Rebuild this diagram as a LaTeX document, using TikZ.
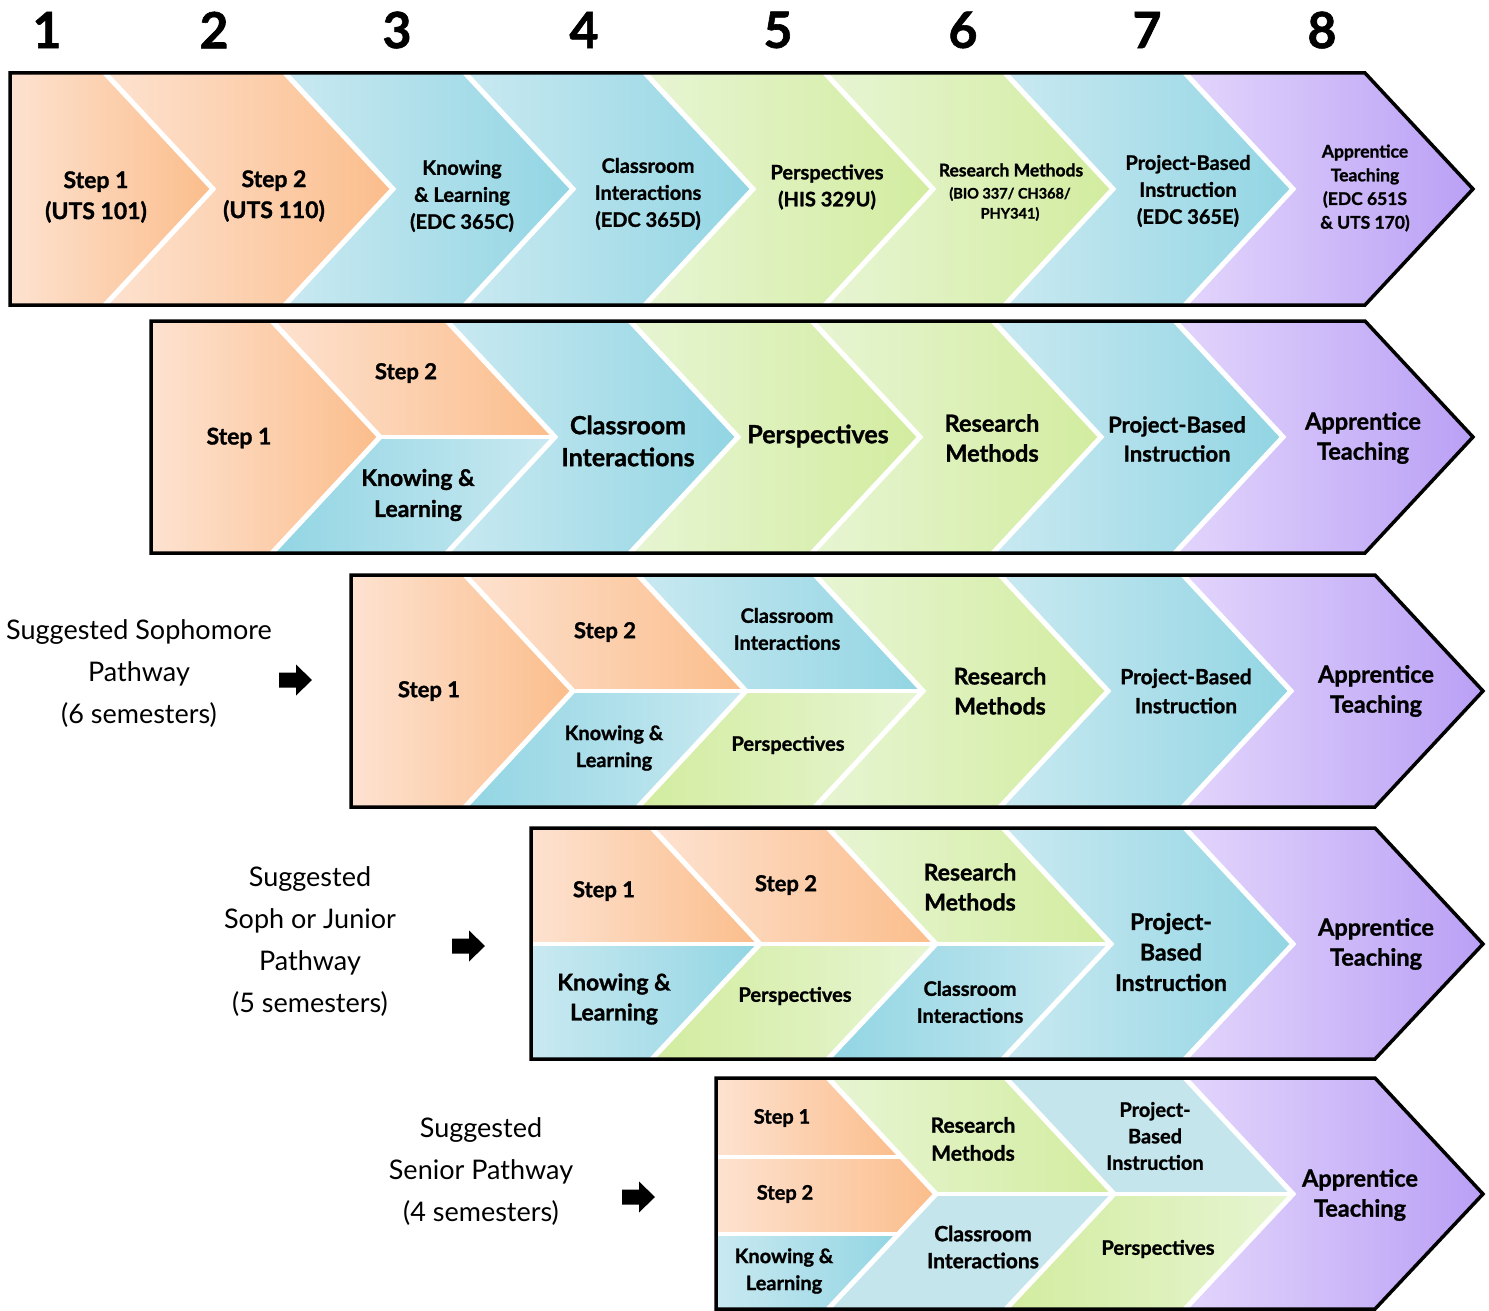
\documentclass[tikz,border=0pt]{standalone}
\usepackage{fontspec}
\setmainfont{Lato}[BoldFeatures={FakeBold=1.2}]
\definecolor{orL}{HTML}{FDE2D0}
\definecolor{orD}{HTML}{FBBD8B}
\definecolor{blL}{HTML}{C9E9F1}
\definecolor{blD}{HTML}{92D5E3}
\definecolor{grL}{HTML}{E7F5D3}
\definecolor{grD}{HTML}{D2EC9F}
\definecolor{puL}{HTML}{E2D5FC}
\definecolor{puD}{HTML}{BAA0F5}
\definecolor{pbl}{HTML}{C4E5EC}
\newcommand\setrow[3]{\def\rT{#1}\def\rB{#2}\def\rM{#3}}
\def\dd{108}
\newcommand\segA[4]{\path[left color=#3,right color=#4] (#1,\rT)--(#2,\rT)--({#2+\dd},\rM)--(#2,\rB)--(#1,\rB)--cycle;}
\newcommand\segB[4]{\path[left color=#3,right color=#4] (#1,\rT)--(#2,\rT)--({#2+\dd},\rM)--(#2,\rB)--(#1,\rB)--({#1+\dd},\rM)--cycle;}
\newcommand\segU[4]{\path[left color=#3,right color=#4] (#1,\rT)--(#2,\rT)--({#2+\dd},\rM)--({#1+\dd},\rM)--cycle;}
\newcommand\segL[4]{\path[left color=#3,right color=#4] ({#1+\dd},\rM)--({#2+\dd},\rM)--(#2,\rB)--(#1,\rB)--cycle;}
\newcommand\segUA[4]{\path[left color=#3,right color=#4] (#1,\rT)--(#2,\rT)--({#2+\dd},\rM)--(#1,\rM)--cycle;}
\newcommand\segLA[4]{\path[left color=#3,right color=#4] (#1,\rM)--({#2+\dd},\rM)--(#2,\rB)--(#1,\rB)--cycle;}
\newcommand\chev[1]{\draw[sepline] (#1,\rT)--({#1+\dd},\rM)--(#1,\rB);}
\newcommand\rowborder[2]{\draw[borderline] (#1,\rT)--(#2,\rT)--({#2+\dd},\rM)--(#2,\rB)--(#1,\rB)--cycle;}
\newcommand\fatarrow[2]{\fill[black] (#1-16,#2-7.5)--(#1+1,#2-7.5)--(#1+1,#2-15.5)--(#1+17,#2)--(#1+1,#2+15.5)--(#1+1,#2+7.5)--(#1-16,#2+7.5)--cycle;}
\tikzset{
  sepline/.style={white,line width=5pt,line join=miter},
  midline/.style={white,line width=3.5pt},
  borderline/.style={black,line width=3.5pt,line join=miter},
  lbl/.style 2 args={align=center,inner sep=0pt,font=\bfseries\fontsize{#1}{#2}\selectfont},
  num/.style={inner sep=0pt,font=\bfseries\fontsize{50}{50}\selectfont},
  path/.style={align=center,inner sep=0pt,font=\fontsize{27}{42}\selectfont},
}
\begin{document}
\begin{tikzpicture}[x=1pt,y=-1pt]
\useasboundingbox (0,0) rectangle (1489,1311);
\fill[white] (0,0) rectangle (1489,1311);
% column numbers
\node[num] (n1) at (47,30) {1};
\node[num] (n2) at (214,30) {2};
\node[num] (n3) at (397,30) {3};
\node[num] (n4) at (584,30) {4};
\node[num] (n5) at (778,30) {5};
\node[num] (n6) at (963,30) {6};
\node[num] (n7) at (1147,30) {7};
\node[num] (n8) at (1322,30) {8};
% ---------------- Row 1
\setrow{73}{305}{189}
\segA{10}{105}{orL}{orD}
\segB{105}{285}{orL}{orD}
\segB{285}{465}{blL}{blD}
\segB{465}{645}{blL}{blD}
\segB{645}{825}{grL}{grD}
\segB{825}{1005}{grL}{grD}
\segB{1005}{1185}{blL}{blD}
\segB{1185}{1365}{puL}{puD}
\chev{105}\chev{285}\chev{465}\chev{645}\chev{825}\chev{1005}\chev{1185}
\rowborder{10}{1365}
% ---------------- Row 2
\setrow{321}{553}{437}
\segA{151}{272}{orL}{orD}
\segU{272}{447}{orL}{orD}
\segL{272}{447}{blD}{blL}
\segB{447}{630}{blL}{blD}
\segB{630}{812}{grL}{grD}
\segB{812}{993}{grL}{grD}
\segB{993}{1175}{blL}{blD}
\segB{1175}{1365}{puL}{puD}
\draw[midline] (380,437)--(555,437);
\chev{272}\chev{447}\chev{630}\chev{812}\chev{993}\chev{1175}
\rowborder{151}{1365}
% ---------------- Row 3
\setrow{575}{807}{691}
\segA{351}{465}{orL}{orD}
\segU{465}{638}{orL}{orD}
\segL{465}{638}{blD}{blL}
\segU{638}{815}{blL}{blD}
\segL{638}{815}{grD}{grL}
\segB{815}{1000}{grL}{grD}
\segB{1000}{1183}{blL}{blD}
\segB{1183}{1375}{puL}{puD}
\draw[midline] (573,691)--(923,691);
\chev{465}\chev{638}\chev{815}\chev{1000}\chev{1183}
\rowborder{351}{1375}
% ---------------- Row 4
\setrow{828}{1059}{944}
\segUA{531}{652}{orL}{orD}
\segLA{531}{652}{blL}{blD}
\segU{652}{828}{orL}{orD}
\segL{652}{828}{grD}{grL}
\segU{828}{1003}{grL}{grD}
\segL{828}{1003}{blD}{blL}
\segB{1003}{1185}{blL}{blD}
\segB{1185}{1375}{puL}{puD}
\draw[midline] (531,944)--(1111,944);
\chev{652}\chev{828}\chev{1003}\chev{1185}
\rowborder{531}{1375}
% ---------------- Row 5
\setrow{1078}{1309}{1194}
\path[left color=orL,right color=orD] (716,1078)--(828,1078)--(901.6,1157)--(716,1157)--cycle;
\path[left color=orL,right color=orD] (716,1157)--(901.6,1157)--(936,1194)--(898.4,1234)--(716,1234)--cycle;
\path[left color=blL,right color=blD] (716,1234)--(898.4,1234)--(828,1309)--(716,1309)--cycle;
\segU{828}{1006}{grL}{grD}
\segL{828}{1006}{pbl}{pbl}
\segU{1006}{1185}{pbl}{pbl}
\segL{1006}{1185}{grD}{grL}
\segB{1185}{1375}{puL}{puD}
\draw[midline] (716,1157)--(901.6,1157);
\draw[midline] (716,1234)--(898.4,1234);
\draw[midline] (936,1194)--(1293,1194);
\chev{828}\chev{1006}\chev{1185}
\rowborder{716}{1375}
% ---------------- Row texts
\node[lbl={23}{31}] (r1s1) at (96,197) {Step 1\\(UTS 101)};
\node[lbl={23}{31}] (r1s2) at (274,196) {Step 2\\(UTS 110)};
\node[lbl={20}{27}] (r1kl) at (462,196) {Knowing\\\& Learning\\(EDC 365C)};
\node[lbl={20}{27}] (r1ci) at (648,194) {Classroom\\Interactions\\(EDC 365D)};
\node[lbl={20}{27}] (r1pe) at (827,187) {Perspectives\\(HIS 329U)};
\node[lbl={17.5}{20}] (r1rm) at (1011,170) {Research Methods};
\node[lbl={14.5}{20}] (r1rmc) at (1010,204) {(BIO 337/ CH368/\\PHY341)};
\node[lbl={20}{27}] (r1pb) at (1188,191) {Project-Based\\Instruction\\(EDC 365E)};
\node[lbl={17.5}{23.7}] (r1at) at (1365,188) {Apprentice\\Teaching\\(EDC 651S\\\& UTS 170)};
%
\node[lbl={23}{30}] (r2s1) at (239,438) {Step 1};
\node[lbl={22}{30}] (r2s2) at (406,373) {Step 2};
\node[lbl={23}{31}] (r2kl) at (418,495) {Knowing \&\\Learning};
\node[lbl={25}{32}] (r2ci) at (628,441) {Classroom\\Interactions};
\node[lbl={25}{32}] (r2pe) at (818,436) {Perspectives};
\node[lbl={23.5}{30}] (r2rm) at (992,438) {Research\\Methods};
\node[lbl={22}{29}] (r2pb) at (1177,439) {Project-Based\\Instruction};
\node[lbl={23.5}{30}] (r2at) at (1363,438) {Apprentice\\Teaching};
%
\node[lbl={22}{30}] (r3s1) at (429,691) {Step 1};
\node[lbl={22}{30}] (r3s2) at (605,632) {Step 2};
\node[lbl={20}{27}] (r3ci) at (787,629) {Classroom\\Interactions};
\node[lbl={20}{27}] (r3kl) at (614,748) {Knowing \&\\Learning};
\node[lbl={20}{27}] (r3pe) at (788,745) {Perspectives};
\node[lbl={23}{30}] (r3rm) at (1000,691) {Research\\Methods};
\node[lbl={21}{29}] (r3pb) at (1186,691) {Project-Based\\Instruction};
\node[lbl={23.5}{30}] (r3at) at (1376,691) {Apprentice\\Teaching};
%
\node[lbl={22}{30}] (r4s1) at (604,891) {Step 1};
\node[lbl={22}{30}] (r4s2) at (786,885) {Step 2};
\node[lbl={23}{30}] (r4rm) at (970,887) {Research\\Methods};
\node[lbl={23}{30}] (r4kl) at (614,999) {Knowing \&\\Learning};
\node[lbl={20}{27}] (r4pe) at (795,996) {Perspectives};
\node[lbl={20}{27}] (r4ci) at (970,1002) {Classroom\\Interactions};
\node[lbl={23}{30.5}] (r4pb) at (1171,952) {Project-\\Based\\Instruction};
\node[lbl={23.5}{30}] (r4at) at (1376,944) {Apprentice\\Teaching};
%
\node[lbl={20}{27}] (r5s1) at (782,1118) {Step 1};
\node[lbl={20}{27}] (r5s2) at (785,1194) {Step 2};
\node[lbl={20}{27}] (r5kl) at (784,1271) {Knowing \&\\Learning};
\node[lbl={21}{28}] (r5rm) at (973,1139) {Research\\Methods};
\node[lbl={21}{27}] (r5ci) at (983,1247) {Classroom\\Interactions};
\node[lbl={20}{26.5}] (r5pb) at (1155,1136) {Project-\\Based\\Instruction};
\node[lbl={20}{27}] (r5pe) at (1158,1249) {Perspectives};
\node[lbl={23.5}{30}] (r5at) at (1360,1195) {Apprentice\\Teaching};
% ---------------- pathway labels
\node[path] (p6) at (139,674) {Suggested Sophomore\\Pathway\\(6 semesters)};
\node[path] (p5) at (310,942) {Suggested\\Soph or Junior\\Pathway\\(5 semesters)};
\node[path] (p4) at (481,1172) {Suggested\\Senior Pathway\\(4 semesters)};
\fatarrow{295}{680}
\fatarrow{468}{946}
\fatarrow{638}{1197}
\end{tikzpicture}
\end{document}
